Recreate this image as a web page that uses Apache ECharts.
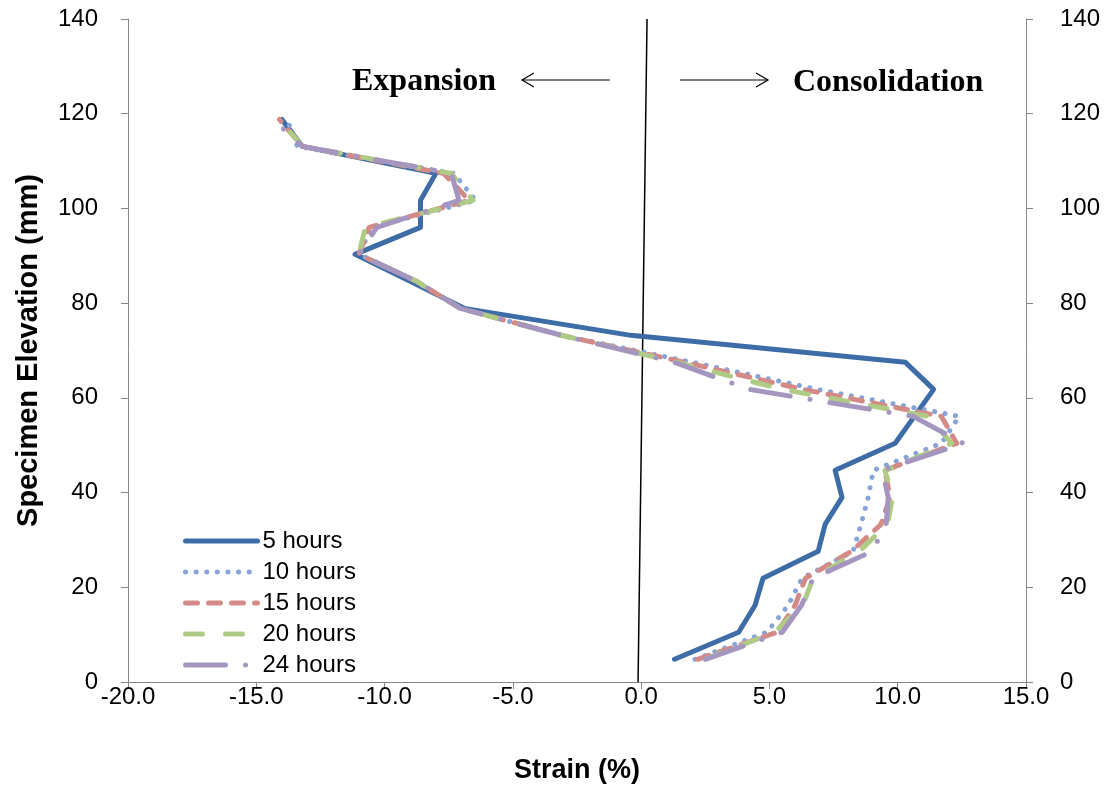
<!DOCTYPE html>
<html>
<head>
<meta charset="utf-8">
<script src="https://cdn.jsdelivr.net/npm/echarts@6/dist/echarts.min.js"></script>
<style>html,body{margin:0;padding:0;background:#fff;}#c{width:1116px;height:789px;}</style>
</head>
<body>
<div id="c"></div>
<script>
const elevation = [4.8, 10.5, 16.2, 21.9, 27.6, 33.3, 39.0, 44.7, 50.4, 56.1, 61.8, 67.5, 73.2, 78.9, 84.6, 90.3, 96.0, 101.7, 107.4, 113.1, 118.8];
const strain5h  = [1.3, 3.8, 4.44, 4.75, 6.9, 7.17, 7.83, 7.56, 9.9, 10.65, 11.4, 10.3, -0.4, -6.9, -9.0, -11.15, -8.6, -8.6, -8.0, -13.2, -14.0];
const strain10h = [2.1, 4.9, 5.73, 6.27, 8.26, 8.57, 8.85, 9.05, 11.7, 12.4, 6.85, 2.0, -3.1, -7.05, -8.75, -11.0, -10.5, -6.45, -7.3, -13.4, -13.8];
const strain15h = [2.2, 5.3, 6.0, 6.4, 8.2, 9.35, 9.7, 9.5, 12.3, 11.7, 6.3, 1.7, -3.1, -7.05, -8.75, -11.0, -10.6, -6.7, -7.7, -13.2, -14.1];
const strain20h = [2.5, 5.2, 6.3, 6.7, 8.5, 9.6, 9.8, 9.5, 12.1, 11.2, 5.5, 1.4, -3.1, -7.05, -8.75, -11.0, -10.75, -6.55, -7.4, -13.2, -14.1];
const strain24h = [2.5, 5.5, 6.25, 6.7, 9.0, 9.55, 9.63, 9.4, 12.55, 10.6, 4.2, 1.3, -3.1, -7.05, -8.75, -11.0, -10.3, -7.1, -7.4, -13.2, -14.35];
const seriesNames = ['5 hours', '10 hours', '15 hours', '20 hours', '24 hours'];
const refLineX = [-0.12, 0.23];
const refLineY = [0, 140];
const xTicks = { min: -20, max: 15, interval: 5 };
const yTicks = { min: 0, max: 140, interval: 20 };

const pairs = (xs) => xs.map((x, i) => [x, elevation[i]]);
const allStrain = [strain5h, strain10h, strain15h, strain20h, strain24h];
const colors = ['#3E6CA7', '#87A4D6', '#D48A86', '#B0CB86', '#A596C0'];
const widths = [5, 5, 5, 5, 5];
const dashes = ['solid', [0.1, 10.5], [12, 11], [17, 23], [40, 20, 0.1, 20]];

const chart = echarts.init(document.getElementById('c'), null, { renderer: 'canvas' });
const FONT = 'Liberation Sans';

const series = allStrain.map((s, i) => ({
  name: seriesNames[i],
  type: 'line',
  data: pairs(s),
  showSymbol: false,
  symbol: 'none',
  smooth: false,
  z: 3 + i,
  lineStyle: { color: colors[i], width: widths[i], type: dashes[i], cap: 'round', join: 'round' },
  itemStyle: { color: colors[i] },
  animation: false
}));
series.push({
  name: 'ref',
  type: 'line',
  data: refLineX.map((x, i) => [x, refLineY[i]]),
  showSymbol: false,
  symbol: 'none',
  lineStyle: { color: '#000', width: 1.5 },
  z: 2,
  animation: false
});

const axisLineStyle = { color: '#868686', width: 1 };
chart.setOption({
  animation: false,
  backgroundColor: '#fff',
  grid: { left: 128, right: 90, top: 19, bottom: 106, containLabel: false },
  legend: {
    data: seriesNames,
    orient: 'vertical',
    left: 178,
    top: 524,
    itemWidth: 72,
    itemHeight: 20,
    itemGap: 7,
    itemStyle: { opacity: 0 },
    lineStyle: { width: 5, cap: 'round' },
    textStyle: { fontFamily: FONT, fontSize: 24, color: '#000' }
  },
  xAxis: {
    type: 'value',
    min: xTicks.min, max: xTicks.max, interval: xTicks.interval,
    name: 'Strain (%)',
    nameLocation: 'middle',
    nameGap: 75,
    nameTextStyle: { fontFamily: FONT, fontSize: 27, fontWeight: 'bold', color: '#000' },
    axisLine: { onZero: false, lineStyle: axisLineStyle },
    axisTick: { show: true, inside: false, length: 7, lineStyle: axisLineStyle },
    splitLine: { show: false },
    axisLabel: { formatter: v => v.toFixed(1), fontFamily: FONT, fontSize: 24, color: '#000', margin: 3 }
  },
  yAxis: [{
    type: 'value',
    min: yTicks.min, max: yTicks.max, interval: yTicks.interval,
    position: 'left',
    name: 'Specimen Elevation (mm)',
    nameLocation: 'middle',
    nameRotate: 90,
    nameGap: 85,
    nameTextStyle: { fontFamily: FONT, fontSize: 29, fontWeight: 'bold', color: '#000' },
    axisLine: { show: true, onZero: false, lineStyle: axisLineStyle },
    axisTick: { show: true, inside: false, length: 7, lineStyle: axisLineStyle },
    splitLine: { show: false },
    axisLabel: { fontFamily: FONT, fontSize: 24, color: '#000', margin: 30 }
  }, {
    type: 'value',
    min: yTicks.min, max: yTicks.max, interval: yTicks.interval,
    position: 'right',
    axisLine: { show: true, onZero: false, lineStyle: axisLineStyle },
    axisTick: { show: true, inside: false, length: 7, lineStyle: axisLineStyle },
    splitLine: { show: false },
    axisLabel: { fontFamily: FONT, fontSize: 24, color: '#000', margin: 34 }
  }],
  series: series,
  graphic: [
    { type: 'text', left: 352, top: 66, style: { text: 'Expansion', fontFamily: 'Liberation Serif', fontWeight: 'bold', fontSize: 32, fill: '#000' } },
    { type: 'text', left: 793, top: 67, style: { text: 'Consolidation', fontFamily: 'Liberation Serif', fontWeight: 'bold', fontSize: 32, fill: '#000' } },
    { type: 'line', shape: { x1: 522, y1: 80, x2: 610, y2: 80 }, style: { stroke: '#000', lineWidth: 1.2 } },
    { type: 'polyline', shape: { points: [[534, 73], [522, 80], [534, 87]] }, style: { stroke: '#000', lineWidth: 1.2, fill: null } },
    { type: 'line', shape: { x1: 680, y1: 80, x2: 768, y2: 80 }, style: { stroke: '#000', lineWidth: 1.2 } },
    { type: 'polyline', shape: { points: [[756, 73], [768, 80], [756, 87]] }, style: { stroke: '#000', lineWidth: 1.2, fill: null } }
  ]
});
</script>
</body>
</html>
